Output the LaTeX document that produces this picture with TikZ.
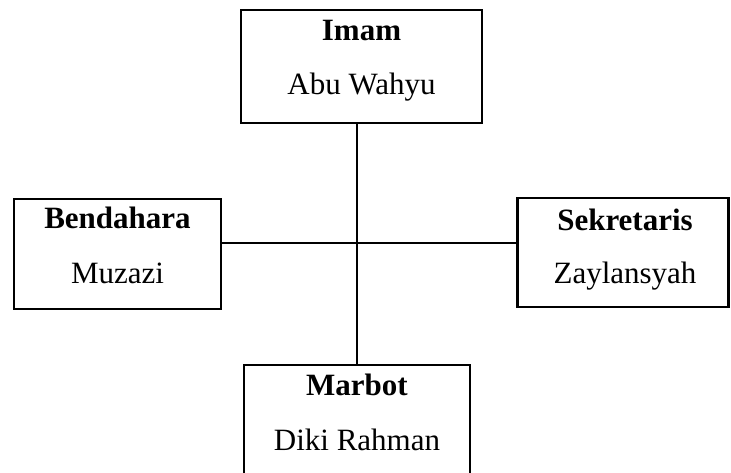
\documentclass[tikz,border=0pt]{standalone}
\usepackage{fontspec}
\setmainfont{Liberation Serif}
\begin{document}
\begin{tikzpicture}[x=1pt,y=-1pt,
  box/.style={draw=black,line width=2.5pt,rectangle,inner sep=0pt,fill=white},
  txt/.style={anchor=base,inner sep=0pt,font=\fontsize{31}{37}\selectfont},
  ttl/.style={txt,font=\fontsize{31}{37}\selectfont\bfseries},
  conn/.style={draw=black,line width=2pt}]
\useasboundingbox (0,0) rectangle (731,472);
\clip (0,0) rectangle (731,472);
\fill[white] (0,0) rectangle (731,472);
% boxes
\node[box,minimum width=241pt,minimum height=113pt] (imam) at (361.5,66.5) {};
\node[box,minimum width=207pt,minimum height=110pt] (bend) at (117.5,254) {};
\node[box,minimum width=211pt,minimum height=109pt] (sek) at (623,252.5) {};
\node[box,minimum width=226pt,minimum height=113pt] (marbot) at (357,421.5) {};
% connectors
\coordinate (hub) at (357,243);
\draw[conn] (imam.south -| marbot.north) -- (marbot.north);
\draw[conn] (bend.east |- hub) -- (sek.west |- hub);
% texts
\node[ttl] (imamT) at (361.5,40) {Imam};
\node[txt] (imamN) at (361.5,94) {Abu Wahyu};
\node[ttl] (bendT) at (117.5,228) {Bendahara};
\node[txt] (bendN) at (117.5,283) {Muzazi};
\node[ttl] (sekT) at (625,230) {Sekretaris};
\node[txt] (sekN) at (625,283) {Zaylansyah};
\node[ttl] (marbotT) at (357,395) {Marbot};
\node[txt] (marbotN) at (357,450) {Diki Rahman};
\end{tikzpicture}
\end{document}
